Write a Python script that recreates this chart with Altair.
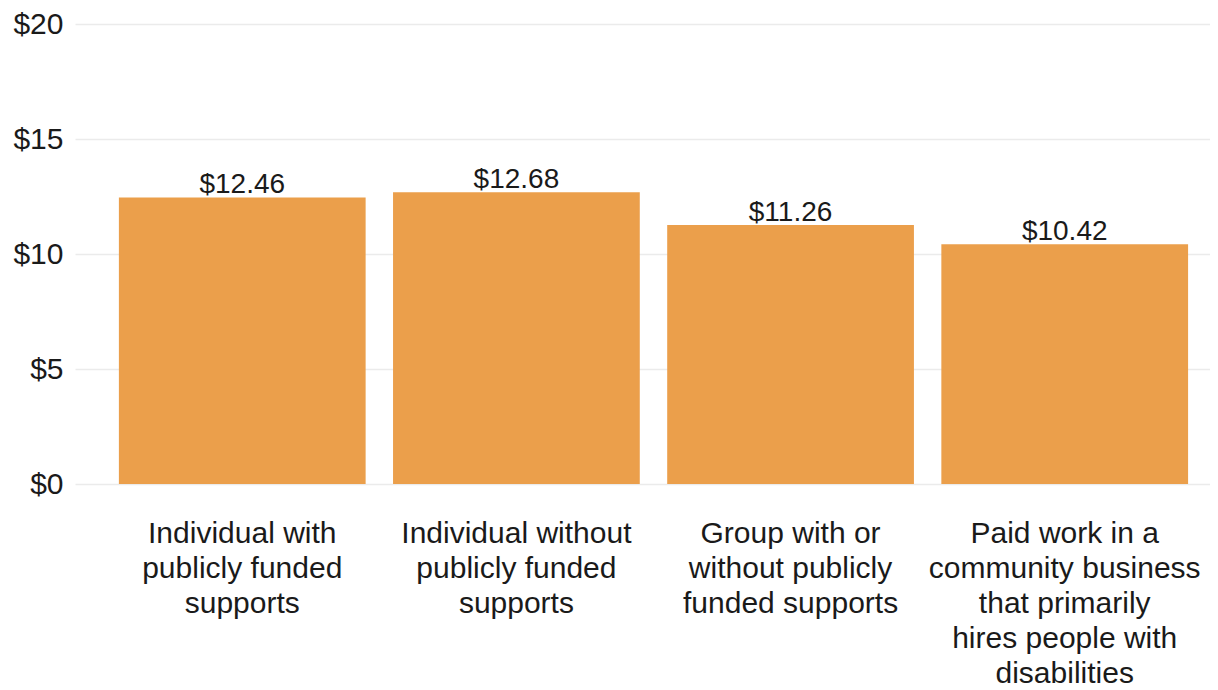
import altair as alt
import pandas as pd

categories = [
    "Individual with\npublicly funded\nsupports",
    "Individual without\npublicly funded\nsupports",
    "Group with or\nwithout publicly\nfunded supports",
    "Paid work in a\ncommunity business\nthat primarily\nhires people with\ndisabilities",
]
wages = [12.46, 12.68, 11.26, 10.42]
y_ticks = [0, 5, 10, 15, 20]

df = pd.DataFrame({"cat": categories, "wage": wages})

FONT = "Liberation Sans"

x = alt.X(
    "cat:N",
    sort=categories,
    title=None,
    scale=alt.Scale(paddingInner=0.1, paddingOuter=0.12, align=0.667),
    axis=alt.Axis(
        labelAngle=0,
        labelExpr="split(datum.label, '\\n')",
        labelFont=FONT,
        labelFontSize=30,
        labelColor="#1a1a1a",
        labelLineHeight=35,
        labelPadding=34,
        labelLimit=400,
        ticks=False,
        domain=False,
        grid=False,
    ),
)

y = alt.Y(
    "wage:Q",
    title=None,
    scale=alt.Scale(domain=[0, 20], nice=False),
    axis=alt.Axis(
        values=y_ticks,
        format="$.0f",
        labelFont=FONT,
        labelFontSize=30,
        labelColor="#1a1a1a",
        labelPadding=12,
        ticks=False,
        domain=False,
        grid=True,
        gridColor="#ebebeb",
        gridWidth=1.5,
    ),
)

bars = alt.Chart(df).mark_bar(color="#EB9F4B").encode(x=x, y=y)

labels = alt.Chart(df).mark_text(
    font=FONT, fontSize=28, color="#1a1a1a", baseline="alphabetic", dy=-4
).encode(
    x=alt.X("cat:N", sort=categories),
    y="wage:Q",
    text=alt.Text("wage:Q", format="$.2f"),
)

chart = (
    alt.layer(bars, labels)
    .properties(
        width=1135,
        height=460,
        padding={"top": 1, "left": 4, "right": 0, "bottom": 0},
        background="white",
    )
    .configure_view(stroke=None)
)

chart.save("out.html", embed_options={"renderer": "svg", "actions": False})
